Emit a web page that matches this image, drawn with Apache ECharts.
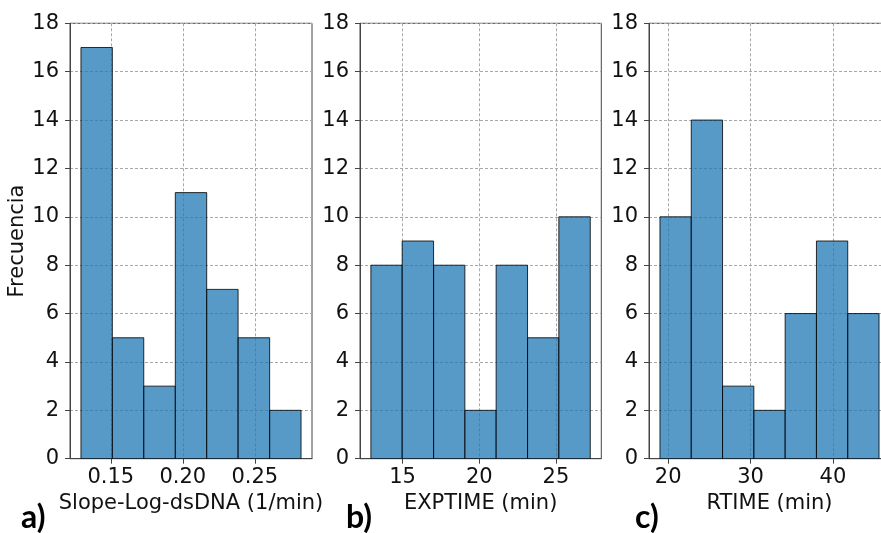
<!DOCTYPE html>
<html>
<head>
<meta charset="utf-8">
<script src="https://cdn.jsdelivr.net/npm/echarts@6/dist/echarts.min.js"></script>
<style>
  html, body { margin: 0; padding: 0; background: #fff; }
  #chart { width: 881px; height: 533px; }
</style>
</head>
<body>
<div id="chart"></div>
<script>
// Histogram bin edges and counts for each panel
const slopeEdges = [0.1293, 0.1511, 0.1729, 0.1948, 0.2166, 0.2384, 0.2603, 0.2821];
const slopeCounts = [17, 5, 3, 11, 7, 5, 2];
const exptimeEdges = [12.93, 14.97, 17.02, 19.06, 21.10, 23.15, 25.19, 27.24];
const exptimeCounts = [8, 9, 8, 2, 8, 5, 10];
const rtimeEdges = [19.0, 22.8, 26.6, 30.4, 34.2, 38.0, 41.8, 45.6];
const rtimeCounts = [10, 14, 3, 2, 6, 9, 6];

// Axis ticks and ranges
const slopeTicks = [0.15, 0.20, 0.25];
const exptimeTicks = [15, 20, 25];
const rtimeTicks = [20, 30, 40];
const slopeRange = [0.1217, 0.2897];
const exptimeRange = [12.22, 27.96];
const rtimeRange = [17.67, 46.93];
const yTicksMax = 18;

const panelTitles = ['Slope-Log-dsDNA (1/min)', 'EXPTIME (min)', 'RTIME (min)'];
const panelLetters = ['a)', 'b)', 'c)'];

const FONT = 'DejaVu Sans';
const TEXT = '#111';
const FRAME = '#444';
const FS = 21;

const gridBoxes = [
  { left: 70, top: 23.3, width: 242, height: 435.4 },
  { left: 360, top: 23.3, width: 241.3, height: 435.4 },
  { left: 649, top: 23.3, width: 241, height: 435.4 }
];

const gridLine = { show: true, lineStyle: { color: '#a8a8a8', type: [3, 2], width: 1 } };

function xAxisFor(i, range, ticks, decimals) {
  return {
    type: 'value', gridIndex: i, min: range[0], max: range[1],
    name: panelTitles[i], nameLocation: 'middle', nameGap: 33,
    nameTextStyle: { fontFamily: FONT, fontSize: FS, color: TEXT },
    axisLine: { show: true, onZero: false, lineStyle: { color: FRAME, width: 1 } },
    axisTick: { show: true, length: 5, customValues: ticks, lineStyle: { color: FRAME } },
    axisLabel: {
      customValues: ticks, margin: 8, fontFamily: FONT, fontSize: FS, color: TEXT,
      formatter: v => v.toFixed(decimals)
    },
    splitLine: gridLine
  };
}

function yAxisFor(i) {
  return {
    type: 'value', gridIndex: i, min: 0, max: yTicksMax, interval: 2,
    name: i === 0 ? 'Frecuencia' : '', nameLocation: 'middle', nameGap: 39,
    nameTextStyle: { fontFamily: FONT, fontSize: FS, color: TEXT },
    axisLine: { show: true, lineStyle: { color: FRAME, width: 1 } },
    axisTick: { show: true, length: 5, lineStyle: { color: FRAME } },
    axisLabel: { margin: 11, fontFamily: FONT, fontSize: FS, color: TEXT },
    splitLine: gridLine
  };
}

function histSeries(i, edges, counts) {
  return {
    type: 'custom', xAxisIndex: i, yAxisIndex: i,
    clip: true,
    encode: { x: [0, 1], y: 2 },
    data: counts.map((c, k) => [edges[k], edges[k + 1], c]),
    renderItem: (params, api) => {
      const top = api.coord([api.value(0), api.value(2)]);
      const bottom = api.coord([api.value(1), 0]);
      return {
        type: 'rect',
        shape: { x: top[0], y: top[1], width: bottom[0] - top[0], height: bottom[1] - top[1] },
        style: { fill: 'rgba(31,119,180,0.75)', stroke: 'rgba(0,0,0,0.8)', lineWidth: 1 }
      };
    }
  };
}

const chart = echarts.init(document.getElementById('chart'), null, { renderer: 'canvas' });
chart.setOption({
  animation: false,
  backgroundColor: '#fff',
  grid: gridBoxes.map(b => Object.assign({
    show: true, borderColor: FRAME, borderWidth: 1, backgroundColor: 'transparent',
    containLabel: false, outerBoundsMode: 'none'
  }, b)),
  xAxis: [
    xAxisFor(0, slopeRange, slopeTicks, 2),
    xAxisFor(1, exptimeRange, exptimeTicks, 0),
    xAxisFor(2, rtimeRange, rtimeTicks, 0)
  ],
  yAxis: [yAxisFor(0), yAxisFor(1), yAxisFor(2)],
  series: [
    histSeries(0, slopeEdges, slopeCounts),
    histSeries(1, exptimeEdges, exptimeCounts),
    histSeries(2, rtimeEdges, rtimeCounts)
  ],
  // panel letters under each subplot
  graphic: panelLetters.map((t, i) => ({
    type: 'text',
    left: [21, 346, 635][i],
    top: 502,
    style: { text: t, fontFamily: 'Lato', fontWeight: 'bold', fontSize: 32, fill: '#000' }
  }))
});
</script>
</body>
</html>
